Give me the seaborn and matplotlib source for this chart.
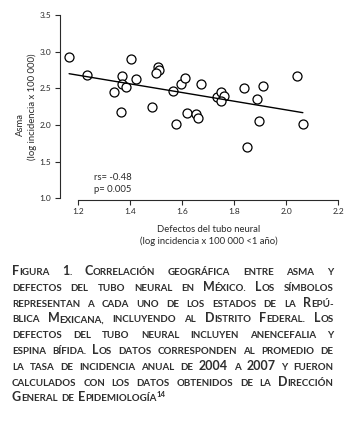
import numpy as np
import pandas as pd
import matplotlib
matplotlib.use("Agg")
import matplotlib.pyplot as plt
import seaborn as sns

# ---- data ----
dtn = [1.164, 1.233, 1.336, 1.368, 1.367, 1.382, 1.362, 1.402, 1.423, 1.484,
       1.506, 1.512, 1.499, 1.563, 1.595, 1.612, 1.576, 1.618, 1.654, 1.659,
       1.671, 1.735, 1.750, 1.759, 1.749, 1.837, 1.849, 1.888, 1.897, 1.911,
       2.041, 2.064]
asma = [2.922, 2.676, 2.448, 2.667, 2.557, 2.512, 2.175, 2.903, 2.621, 2.239,
        2.790, 2.749, 2.712, 2.466, 2.562, 2.635, 2.020, 2.166, 2.148, 2.102,
        2.566, 2.380, 2.448, 2.393, 2.321, 2.507, 1.697, 2.348, 2.056, 2.535,
        2.662, 2.011]
x_ticks = [1.2, 1.4, 1.6, 1.8, 2.0, 2.2]
y_ticks = [1.0, 1.5, 2.0, 2.5, 3.0, 3.5]
stats_text = ["rs= -0.48", "p= 0.005"]
caption_lines = [
    "Figura 1. Correlación geográfica entre asma y",
    "defectos del tubo neural en México. Los símbolos",
    "representan a cada uno de los estados de la Repú-",
    "blica Mexicana, incluyendo al Distrito Federal. Los",
    "defectos del tubo neural incluyen anencefalia y",
    "espina bífida. Los datos corresponden al promedio de",
    "la tasa de incidencia anual de 2004 a 2007 y fueron",
    "calculados con los datos obtenidos de la Dirección",
    "General de Epidemiología",
]
caption_sup = "14"

df = pd.DataFrame({"dtn": dtn, "asma": asma})

sns.set_style("ticks")
plt.rcParams["font.family"] = ["Lato", "DejaVu Sans"]

W, H = 358, 436
fig = plt.figure(figsize=(W / 100, H / 100), dpi=100)
ax = fig.add_axes([59.5 / W, 1 - 200 / H, (340 - 59.5) / W, (200 - 14) / H])

ink = "#2a2a2a"
sns.regplot(data=df, x="dtn", y="asma", ax=ax, ci=None, truncate=True,
            scatter_kws=dict(s=42, facecolor="white", edgecolor="black",
                             linewidths=0.9, alpha=1, zorder=2),
            line_kws=dict(color="black", lw=1.0, zorder=3))

ax.set_xlim(1.127, 2.207)
ax.set_ylim(0.977, 3.514)
ax.set_xticks(x_ticks)
ax.set_yticks(y_ticks)
ax.set_xticklabels([f"{v:.1f}" for v in x_ticks])
ax.set_yticklabels([f"{v:.1f}" for v in y_ticks])
ax.tick_params(labelsize=6, colors=ink, length=3.6, width=0.8, pad=2.5)
for s in ["top", "right"]:
    ax.spines[s].set_visible(False)
ax.spines["left"].set_bounds(1.0, 3.5)
ax.spines["bottom"].set_bounds(1.2, 2.2)
for s in ["left", "bottom"]:
    ax.spines[s].set_linewidth(0.8)
    ax.spines[s].set_color(ink)
ax.set_xlabel("")
ax.set_ylabel("")

# axis titles
fig.text(208.4 / W, 1 - 230 / H, "Defectos del tubo neural", ha="center",
         va="center", fontsize=6.8, color=ink)
fig.text(208.4 / W, 1 - 241 / H, "(log incidencia x 100 000 <1 año)",
         ha="center", va="center", fontsize=6.8, color=ink)
fig.text(20 / W, 1 - 124 / H, "Asma", ha="center", va="center",
         rotation=90, fontsize=6.8, color=ink)
fig.text(32 / W, 1 - 107 / H, "(log incidencia x 100 000)", ha="center",
         va="center", rotation=90, fontsize=6.8, color=ink)

# stats annotation
fig.text(94 / W, 1 - 177 / H, stats_text[0], ha="left", va="center",
         fontsize=6.8, color=ink)
fig.text(94 / W, 1 - 190 / H, stats_text[1], ha="left", va="center",
         fontsize=6.8, color=ink)

# ---- caption in bold small caps, justified ----
cap_color = "#2e2e2e"
BIG, SMALL = 9.0, 7.0
fig.canvas.draw()
rend = fig.canvas.get_renderer()


def seg_runs(word):
    runs = []
    for ch in word:
        is_big = ch.isupper() or ch.isdigit()
        c = ch.upper()
        if runs and runs[-1][1] == is_big:
            runs[-1][0] += c
        else:
            runs.append([c, is_big])
    return runs


def width(s, size):
    t = fig.text(0, 0, s, fontsize=size, fontweight="bold")
    w = t.get_window_extent(rend).width
    t.remove()
    return w


x_left, x_right = 12.0, 333.5
base0, step = 275.0, 15.8
avail = x_right - x_left

for i, line in enumerate(caption_lines):
    words = line.split(" ")
    last = i == len(caption_lines) - 1
    scale = 1.0
    for _ in range(2):
        big, small = BIG * scale, SMALL * scale
        wrun = []
        for wd in words:
            runs = seg_runs(wd)
            ws = [width(r, big if b else small) for r, b in runs]
            wrun.append((runs, ws))
        natural = sum(sum(ws) for _, ws in wrun)
        space_w = width("A A", small) - width("AA", small)
        need = natural + 1.2 * space_w * (len(words) - 1)
        if last or need <= avail:
            break
        scale *= avail / need
    if last:
        gap = space_w * 1.5
    else:
        gap = (avail - natural) / (len(words) - 1)
    y = 1 - (base0 + i * step) / H
    x = x_left
    for runs, ws in wrun:
        for (r, b), w in zip(runs, ws):
            fig.text(x / W, y, r, fontsize=big if b else small,
                     fontweight="bold", color=cap_color, ha="left",
                     va="baseline")
            x += w
        x += gap
    if last:
        x -= gap
        fig.text((x + 0.5) / W, y + 4.0 / H, caption_sup, fontsize=5.6,
                 fontweight="bold", color=cap_color, ha="left",
                 va="baseline")

fig.savefig("out.png", dpi=100)
